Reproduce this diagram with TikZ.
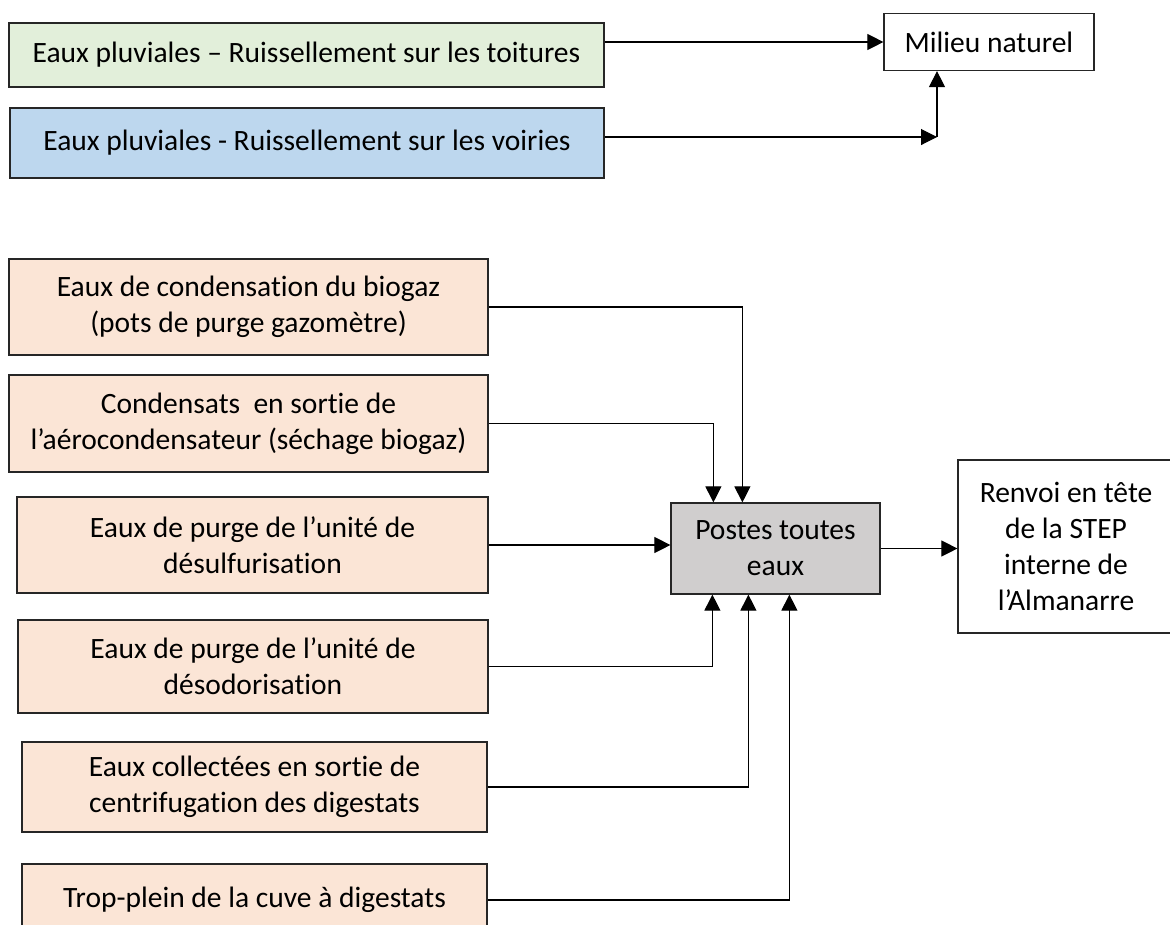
\documentclass[tikz,border=0pt]{standalone}
\usepackage{fontspec}
\setmainfont[Ligatures=NoCommon]{Carlito}
\usetikzlibrary{arrows.meta}
\definecolor{roofgreen}{HTML}{E2EFDA}
\definecolor{roadblue}{HTML}{BDD7EE}
\definecolor{wasteorange}{HTML}{FBE5D6}
\definecolor{pitgray}{HTML}{D0CECE}
\begin{document}
\begin{tikzpicture}[
    x=0.02cm, y=-0.02cm,
    >={Triangle[length=0.32cm,width=0.32cm]},
    line width=0.6pt,
    font=\fontsize{16.8}{20.5}\selectfont,
    flowbox/.style={draw=black!85, line width=0.7pt, align=center, inner sep=0pt},
    rainbox/.style={flowbox, minimum height=1.3cm},
    sourcebox/.style={flowbox, fill=wasteorange, minimum height=1.9cm},
]
\useasboundingbox (0,0) rectangle (1170,924);

\node[rainbox, fill=roofgreen, minimum width=11.9cm, minimum height=1.28cm] (toitures) at (306.5,55) {Eaux pluviales – Ruissellement sur les toitures};
\node[rainbox, fill=roadblue, minimum width=11.88cm, minimum height=1.4cm] (voiries) at (307,143) {Eaux pluviales - Ruissellement sur les voiries};
\node[flowbox, fill=white, minimum width=4.2cm, minimum height=1.14cm] (milieu) at (989,42) {Milieu naturel};

\node[sourcebox, minimum width=9.58cm, minimum height=1.92cm] (biogaz) at (248.5,307) {Eaux de condensation du biogaz\\(pots de purge gazomètre)};
\node[sourcebox, minimum width=9.58cm, minimum height=1.94cm] (aerocond) at (248.5,423.5) {Condensats~ en sortie de\\l’aérocondensateur (séchage biogaz)};
\node[sourcebox, minimum width=9.42cm, minimum height=1.92cm] (desulf) at (252.5,545) {Eaux de purge de l’unité de\\désulfurisation};
\node[sourcebox, minimum width=9.4cm, minimum height=1.86cm] (desodo) at (253,666.5) {Eaux de purge de l’unité de\\désodorisation};
\node[sourcebox, minimum width=9.3cm, minimum height=1.8cm] (centri) at (254.5,787) {Eaux collectées en sortie de\\centrifugation des digestats};
\node[sourcebox, minimum width=9.3cm, minimum height=1.44cm] (tropplein) at (254.5,900) {Trop-plein de la cuve à digestats};

\node[flowbox, fill=pitgray, minimum width=4.18cm, minimum height=1.82cm] (postes) at (775.5,548.5) {Postes toutes\\eaux};
\node[flowbox, fill=white, minimum width=4.32cm, minimum height=3.46cm] (renvoi) at (1066,546.5) {Renvoi en tête\\de la STEP\\interne de\\l’Almanarre};

\coordinate (voiriesturn) at (937,137);

\draw[->] (toitures.east |- milieu.west) -- (milieu.west);
\draw[->] (voiries.east |- voiriesturn) -- (voiriesturn);
\draw[->] (voiriesturn) -- (milieu.south -| voiriesturn);

\draw[->] (biogaz.east) -| ([xshift=1.44cm]postes.north west);
\draw[->] (aerocond.east) -| ([xshift=0.86cm]postes.north west);
\draw[->] (desulf.east) -- (desulf.east -| postes.west);
\draw[->] (desodo.east) -| ([xshift=0.84cm]postes.south west);
\draw[->] (centri.east) -| ([xshift=1.56cm]postes.south west);
\draw[->] (tropplein.east) -| ([xshift=2.38cm]postes.south west);
\draw[->] (postes.east) -- (postes.east -| renvoi.west);

\end{tikzpicture}
\end{document}
